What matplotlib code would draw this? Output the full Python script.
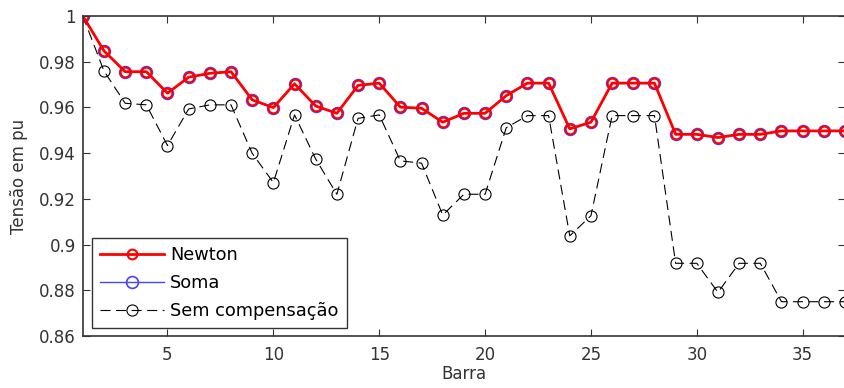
import matplotlib
matplotlib.use('Agg')
import matplotlib.pyplot as plt
from matplotlib.ticker import FuncFormatter

barras = list(range(1, 38))

newton = [1.0, 0.9847, 0.9756, 0.9756, 0.9662, 0.9732, 0.9749, 0.9756, 0.9633, 0.9599,
          0.9703, 0.9606, 0.9574, 0.9696, 0.9706, 0.9601, 0.9596, 0.9535, 0.9574, 0.9574,
          0.9651, 0.9706, 0.9706, 0.9506, 0.9535, 0.9706, 0.9706, 0.9706, 0.9482, 0.9482,
          0.9468, 0.9482, 0.9482, 0.9497, 0.9497, 0.9497, 0.9497]
soma = list(newton)
sem_comp = [1.0, 0.9759, 0.9618, 0.9611, 0.9433, 0.9593, 0.9611, 0.9611, 0.9399, 0.9271,
            0.9567, 0.9374, 0.9220, 0.9552, 0.9567, 0.9366, 0.9356, 0.9129, 0.9220, 0.9220,
            0.9511, 0.9564, 0.9564, 0.9038, 0.9126, 0.9564, 0.9564, 0.9564, 0.8918, 0.8918,
            0.8791, 0.8918, 0.8918, 0.8750, 0.8750, 0.8750, 0.8750]

plt.rcParams['font.family'] = ['DejaVu Sans']
plt.rcParams['font.size'] = 12

fig = plt.figure(figsize=(8.45, 3.88), dpi=100)
ax = fig.add_axes([0.098, 0.134, 0.902, 0.825])

l3, = ax.plot(barras, sem_comp, color='black', ls=(0, (9, 5)), lw=0.8,
              marker='o', ms=8, mfc='none', mec='black', mew=0.8, label='Sem compensação')
l2, = ax.plot(barras, soma, color='#4444ff', lw=1, marker='o', ms=8.5,
              mfc='none', mec='#4444ff', mew=1.2, label='Soma')
l1, = ax.plot(barras, newton, color='red', lw=2, marker='o', ms=7,
              mfc='none', mec='red', mew=1.5, label='Newton')

ax.set_xlim(1, 37)
ax.set_ylim(0.86, 1.0)
ax.set_xticks([5, 10, 15, 20, 25, 30, 35])
ax.set_yticks([0.86, 0.88, 0.9, 0.92, 0.94, 0.96, 0.98, 1.0])
ax.yaxis.set_major_formatter(FuncFormatter(lambda v, p: '%g' % round(v, 2)))
ax.tick_params(direction='in', top=True, right=True, length=5, width=0.8,
               labelsize=12, colors='#333333')
ax.tick_params(axis='x', pad=7)
ax.tick_params(axis='y', pad=5)
for s in ax.spines.values():
    s.set_linewidth(1.2)
    s.set_color('#333333')

ax.set_xlabel('Barra', labelpad=1, color='#333333')
ax.set_ylabel('Tensão em pu', labelpad=8, color='#333333')

leg = ax.legend(handles=[l1, l2, l3], loc='lower left', bbox_to_anchor=(0.012, 0.025),
                fancybox=False, edgecolor='#333333', framealpha=1, handlelength=3.6,
                handletextpad=0.35, fontsize=12.8, borderpad=0.45, labelspacing=0.55,
                borderaxespad=0)
leg.get_frame().set_linewidth(1.0)

fig.savefig('out.png', dpi=100)
